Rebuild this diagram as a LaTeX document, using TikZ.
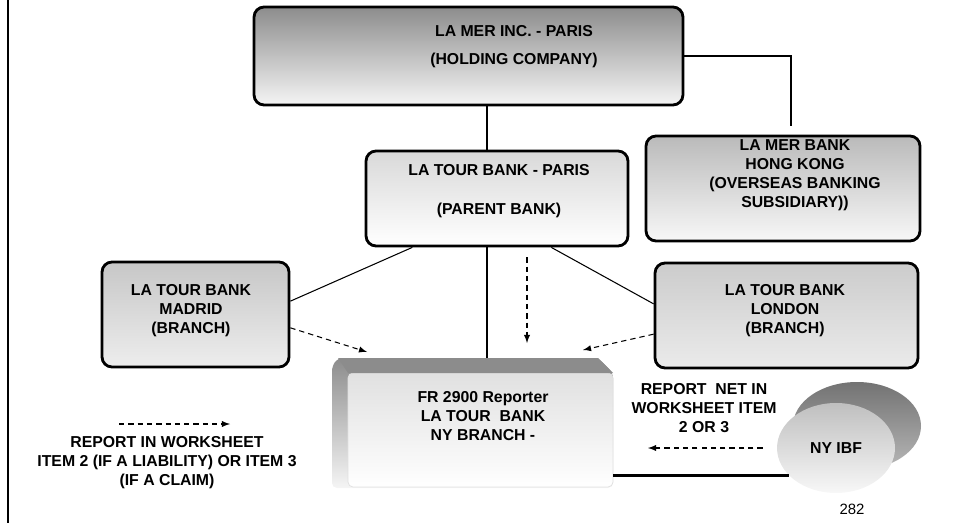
\documentclass[tikz,border=0pt]{standalone}
\usepackage{fontspec}
\setmainfont{Liberation Sans}
\usepackage{tikz}
\usetikzlibrary{arrows,shapes}

\begin{document}
\begin{tikzpicture}[x=0.02cm, y=0.02cm, >=latex,
bank node/.style={rectangle, draw, line width=1.6pt, rounded corners=0.2cm},
label node/.style={align=center, inner sep=0pt, font=\bfseries\fontsize{9}{10.8}\selectfont},
tie/.style={line width=0.6pt},
report line/.style={->, line width=0.6pt, dash pattern=on 3pt off 2.3pt}]
\useasboundingbox (0,0) rectangle (956,-523);
\draw[line width=1.6pt] (8,0) -- (8,-523);

% boxes
\node[bank node, top color=black!45, bottom color=black!4, minimum width=8.58cm, minimum height=1.96cm] (holding) at (468.5,-56) {};
\node[bank node, top color=black!27, bottom color=black!3, minimum width=5.48cm, minimum height=2.1cm] (hk) at (783,-188.5) {};
\node[bank node, top color=black!15, bottom color=white, minimum width=5.24cm, minimum height=1.9cm] (parent) at (497,-198.5) {};
\node[bank node, top color=black!22, bottom color=black!7, minimum width=3.74cm, minimum height=2.1cm] (madrid) at (195.5,-314.5) {};
\node[bank node, top color=black!20, bottom color=black!8, minimum width=5.26cm, minimum height=2.1cm] (london) at (786.5,-315.5) {};

% reporter box
\node[minimum width=5.62cm, minimum height=2.6cm, inner sep=0pt] (fr) at (472.5,-423) {};
\shade[top color=black!45, bottom color=black!4, rounded corners=0.1cm] (332,-366) -- (338,-358) -- (598,-358) -- (613,-373) -- (613,-488) -- (332,-488) -- cycle;
\shade[top color=black!12, bottom color=white, draw=black!12, rounded corners=0.1cm] (348,-373) rectangle (613,-487);
\fill[black!45] (338,-358) -- (598,-358) -- (613,-373) -- (348,-373) -- cycle;

% ibf
\node[ellipse, top color=black!55, bottom color=black!28, minimum width=2.56cm, minimum height=1.76cm] (ibfback) at (857,-426) {};
\node[ellipse, top color=black!25, bottom color=black!3, minimum width=2.36cm, minimum height=1.8cm, label node] (ibf) at (836,-448) {NY IBF};

% texts
\node[label node] (holdingtext) at (514,-47) {LA MER INC. - PARIS\\[5pt](HOLDING COMPANY)};
\node[label node] (hktext) at (795,-175.5) {LA MER BANK\\HONG KONG\\(OVERSEAS BANKING\\SUBSIDIARY))};
\node[label node] (parenttext) at (499,-191.5) {LA TOUR BANK - PARIS\\[11.3pt](PARENT BANK)};
\node[label node] (madridtext) at (191,-311) {LA TOUR BANK\\MADRID\\(BRANCH)};
\node[label node] (londontext) at (785,-311) {LA TOUR BANK\\LONDON\\(BRANCH)};
\node[label node] (frtext) at (483,-416) {FR 2900 Reporter\\LA TOUR~ BANK\\NY BRANCH -};
\node[label node] (nettext) at (704,-408) {REPORT~ NET IN\\WORKSHEET ITEM\\2 OR 3};
\node[label node] (keytext) at (167,-463) {REPORT IN WORKSHEET\\ITEM 2 (IF A LIABILITY) OR ITEM 3\\(IF A CLAIM)};
\node[inner sep=0pt, font=\fontsize{8.5}{10}\selectfont] (pageno) at (852,-509) {282};

% connectors
\coordinate (spine) at (487,0);
\coordinate (madridtip) at (367,-352);
\coordinate (londontip) at (583,-350);
\coordinate (downtip) at (527,-343);
\coordinate (ibftip) at (648,-448);
\coordinate (keystart) at (119,-424);
\coordinate (keytip) at (230,-424);

\draw[tie] (holding.south -| spine) -- (parent.north -| spine);
\draw[tie] (parent.south -| spine) -- (fr.north -| spine);
\draw[tie, shorten >=0.18cm] (holding.east) -| ([xshift=0.16cm]hk.north);
\path[tie]
(parent.210) edge (madrid.8)
(parent.318) edge (london.175);

\draw[report line] (madrid.352) -- (madridtip);
\draw[report line] (london.188) -- (londontip);
\draw[report line, shorten <=0.2cm] (parent.south -| downtip) -- (downtip);
\draw[report line, shorten <=0.28cm] (ibf.west) -- (ibftip);
\draw[report line] (keystart) -- (keytip);
\draw[line width=1.8pt] (ibf.210 -| fr.east) -- (ibf.210);
\end{tikzpicture}
\end{document}
